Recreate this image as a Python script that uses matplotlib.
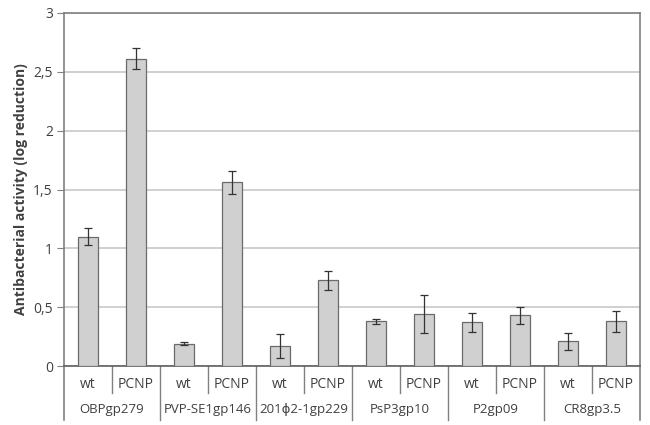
import matplotlib
matplotlib.use("Agg")
import matplotlib.pyplot as plt
import numpy as np

groups = ["OBPgp279", "PVP-SE1gp146", "201\u03d52-1gp229", "PsP3gp10", "P2gp09", "CR8gp3.5"]
variants = ["wt", "PCNP"]
values = [1.10, 2.61, 0.19, 1.56, 0.17, 0.73, 0.38, 0.44, 0.37, 0.43, 0.21, 0.38]
errors = [0.07, 0.09, 0.01, 0.10, 0.10, 0.08, 0.02, 0.16, 0.08, 0.07, 0.07, 0.09]
yticks = [0, 0.5, 1, 1.5, 2, 2.5, 3]
ytick_labels = ["0", "0,5", "1", "1,5", "2", "2,5", "3"]

plt.rcParams['font.family'] = ['Open Sans', 'DejaVu Sans']
txt = "#404040"

fig = plt.figure(figsize=(6.5, 4.25), dpi=100)
ax = fig.add_axes([64/650, 59/425, 576/650, 353/425])

n = len(values)
x = np.arange(n)
ax.bar(x, values, width=0.4, color="#d0d0d0", edgecolor="#6a6a6a", linewidth=0.9, zorder=3)
ax.errorbar(x, values, yerr=errors, fmt="none", ecolor="#333333", elinewidth=0.9,
            capsize=3, capthick=0.9, zorder=4)

ax.set_xlim(-0.5, n - 0.5)
ax.set_ylim(0, 3)
ax.set_yticks(yticks)
ax.set_yticklabels(ytick_labels, color=txt, fontsize=10)
ax.tick_params(axis="y", direction="out", length=5, color="#808080", pad=3)
ax.set_xticks([])
ax.yaxis.grid(True, color="#c8c8c8", linewidth=1.2, zorder=0)
for s in ["top", "right", "left", "bottom"]:
    ax.spines[s].set_color("#808080")
    ax.spines[s].set_linewidth(1.2)
ax.spines["bottom"].set_color("#606060")

ax.set_ylabel("Antibacterial activity (log reduction)", fontsize=10, fontweight="bold",
              color=txt)
ax.yaxis.set_label_coords(-36/576, 0.5)

trans = ax.get_xaxis_transform()
short = -27/353
long_ = -54/353
for i in range(n):
    ax.text(x[i], -19/353, variants[i % 2], transform=trans, ha="center", va="center",
            fontsize=10, color=txt)
for i in range(n - 1):
    b = i + 0.5
    if i % 2 == 0:
        ax.plot([b, b], [0, short], transform=trans, color="#808080", lw=1.0, clip_on=False)
    else:
        ax.plot([b, b], [0, long_], transform=trans, color="#808080", lw=1.0, clip_on=False)
for b in [-0.5, n - 0.5]:
    ax.plot([b, b], [0, long_], transform=trans, color="#808080", lw=1.2, clip_on=False)
for g, name in enumerate(groups):
    ax.text(2 * g + 0.5, -44/353, name, transform=trans, ha="center", va="center",
            fontsize=9.5, color=txt)

fig.savefig("out.png", dpi=100, facecolor="white")
